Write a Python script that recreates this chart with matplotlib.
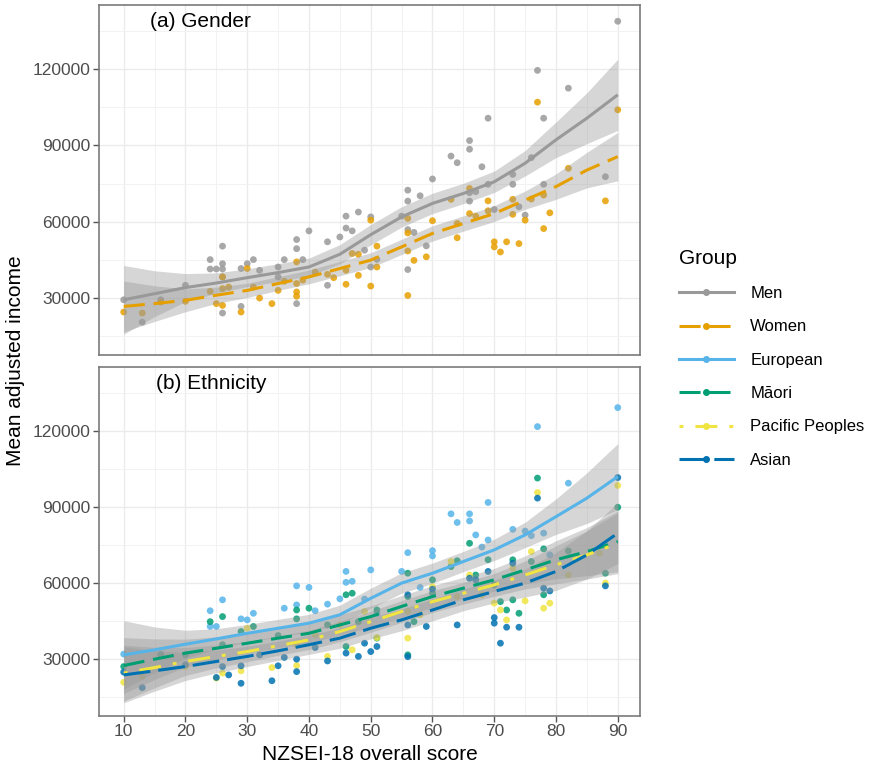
import numpy as np
import matplotlib
matplotlib.use("Agg")
import matplotlib.pyplot as plt
from matplotlib.lines import Line2D
from matplotlib.ticker import MultipleLocator

plt.rcParams['font.family'] = ['Liberation Sans', 'DejaVu Sans']

# ---------------- data ----------------
men_x = [10, 13, 16, 20, 24, 24, 25, 26, 26, 26, 26, 26, 29, 29, 30, 31, 32, 35, 35, 36,
         38, 38, 38, 39, 40, 43, 43, 45, 46, 46, 47, 48, 49, 50, 50, 51, 55, 56, 56, 56,
         56, 57, 58, 59, 60, 63, 64, 66, 66, 66, 66, 67, 68, 69, 69, 70, 73, 73, 74, 75,
         76, 77, 78, 78, 82, 88, 90]
men_y = [29300, 20500, 29300, 35000, 45100, 41400, 41400, 50400, 43500, 41400, 38300, 24100,
         41600, 26700, 43500, 45100, 40900, 42200, 38300, 45100, 53000, 49400, 27800, 45100,
         56400, 52100, 35000, 54000, 62200, 57500, 56400, 63800, 48800, 61900, 42200, 45200,
         62200, 72400, 68100, 56900, 41200, 55800, 70200, 50500, 76800, 85800, 83200, 91900,
         88500, 71400, 68100, 71800, 81600, 100700, 74700, 64800, 78600, 74700, 65900, 62600,
         85200, 119500, 100700, 74700, 112500, 77700, 138800]

women_x = [10, 13, 16, 20, 24, 25, 26, 26, 26, 27, 29, 30, 31, 32, 34, 35, 36, 38, 38, 38,
           38, 39, 41, 43, 44, 46, 46, 47, 48, 48, 50, 50, 51, 51, 56, 56, 56, 56, 57, 59,
           60, 63, 64, 64, 66, 66, 67, 69, 69, 70, 70, 71, 72, 73, 73, 74, 75, 76, 77, 78,
           78, 79, 82, 88, 90]
women_y = [24500, 24100, 28400, 28700, 32600, 27800, 38300, 33700, 27100, 34300, 24500, 41600,
           34300, 30000, 27800, 33000, 36600, 44200, 35700, 32400, 30700, 37000, 40200, 39300,
           38000, 40900, 35400, 47500, 47200, 38900, 60600, 34700, 50400, 42200, 61300, 55600,
           48500, 31000, 44800, 46200, 60400, 68800, 59300, 53700, 73100, 63200, 62200, 68200,
           64300, 52100, 50100, 48100, 52100, 68800, 62900, 51400, 60600, 68900, 107000, 70500,
           57300, 63500, 81000, 68200, 104000]

euro_x = [10, 16, 24, 26, 25, 24, 29, 30, 31, 36, 38, 38, 40, 41, 43, 45, 46, 46, 47, 49,
          50, 51, 55, 56, 58, 60, 60, 63, 64, 66, 66, 67, 68, 69, 69, 73, 75, 76, 77, 78,
          79, 82, 90]
euro_y = [32000, 32000, 49100, 53400, 42900, 42900, 45900, 45500, 48100, 50100, 58900, 51400,
          58300, 49100, 51700, 53800, 64600, 60300, 60700, 53700, 65200, 48100, 64600, 72000,
          58300, 72800, 70700, 87300, 83900, 87300, 84500, 79000, 74200, 91800, 77000, 81200,
          80500, 78700, 121700, 79700, 71100, 99400, 129200]

maori_x = [10, 16, 20, 24, 26, 26, 29, 31, 35, 38, 38, 40, 43, 46, 47, 46, 48, 51, 51, 56,
           56, 56, 57, 60, 60, 63, 64, 66, 67, 69, 70, 71, 72, 73, 73, 74, 76, 77, 78, 78,
           82, 88, 90]
maori_y = [27100, 31700, 31700, 44800, 46800, 35700, 40900, 42900, 39300, 49400, 45900, 50100,
           43500, 55400, 56000, 35000, 44800, 49400, 38300, 63900, 31700, 54700, 44800, 61300,
           56000, 66500, 68800, 75700, 63200, 69200, 59300, 52700, 49400, 69200, 53400, 48100,
           68500, 101400, 73500, 55400, 72700, 63900, 89900]

pac_x = [10, 13, 20, 25, 26, 29, 30, 34, 38, 38, 41, 43, 45, 47, 49, 51, 56, 56, 58, 60,
         63, 64, 66, 68, 70, 71, 72, 73, 75, 76, 77, 78, 79, 82, 87, 88, 90]
pac_y = [20900, 23200, 27100, 22500, 24500, 25400, 42200, 26700, 27500, 35700, 39600, 31100,
         43500, 33700, 48800, 38500, 38300, 48800, 47500, 58600, 68500, 54700, 63200, 55400,
         52100, 49400, 45500, 65900, 53000, 72400, 95700, 50100, 52100, 63200, 71800, 60000,
         98500]

asian_x = [10, 13, 20, 25, 26, 27, 29, 29, 32, 34, 35, 36, 38, 38, 41, 43, 46, 48, 49, 50,
           51, 56, 56, 56, 59, 60, 64, 66, 67, 69, 70, 70, 71, 72, 73, 74, 77, 78, 79, 88, 90]
asian_y = [24900, 18800, 27800, 22800, 27100, 23800, 20500, 27400, 31700, 21500, 27400, 30700,
           25100, 30000, 34600, 29300, 32400, 31100, 36300, 33000, 35000, 43500, 31000, 55400,
           42900, 57600, 43500, 61900, 61300, 64600, 46400, 44200, 36300, 42600, 67800, 42600,
           93500, 58000, 56900, 58900, 101600]

# smooth fits and half-widths of confidence bands
fit_x = [10, 15, 20, 25, 30, 35, 40, 45, 50, 55, 60, 65, 70, 75, 80, 85, 90]
men_fit = [29300, 31700, 34100, 35900, 38000, 40000, 42200, 47200, 54900, 61900, 67200, 71100,
           75700, 83000, 92200, 100700, 109900]
men_hw = [13500, 9000, 5500, 4000, 3500, 3500, 3500, 3800, 4000, 4000, 4000, 4000, 4200, 5000,
          7000, 10000, 14000]
women_fit = [26700, 27800, 29100, 31100, 33000, 35700, 38300, 41600, 44900, 50100, 55400, 59300,
             63200, 68500, 73800, 80300, 85600]
women_hw = [10000, 7000, 4500, 3200, 2800, 2700, 2700, 2800, 2900, 3000, 3000, 3000, 3100, 3600,
            5000, 7000, 9500]
euro_fit = [31700, 33700, 35900, 38000, 40200, 42200, 44200, 47500, 54000, 60000, 63900, 68500,
            73100, 79000, 86200, 93500, 102000]
euro_hw = [13500, 9000, 5500, 4000, 3500, 3500, 3500, 3800, 4000, 4000, 4000, 4000, 4200, 5000,
           7000, 10000, 13000]
maori_fit = [27500, 30000, 32400, 34300, 36300, 38300, 40200, 43500, 46800, 50800, 54700, 58000,
             61300, 65200, 69200, 72400, 76400]
pac_fit = [24500, 26700, 29100, 31100, 33000, 35300, 37600, 40900, 44800, 48800, 52700, 56000,
           59300, 63200, 67200, 71100, 75700]
asian_fit = [23800, 25400, 27100, 29100, 31100, 33300, 35700, 38300, 42200, 45500, 49400, 53400,
             56700, 60000, 64600, 71100, 79700]
other_hw = [11000, 8000, 5500, 4500, 4000, 3800, 3800, 4000, 4200, 4300, 4300, 4300, 4500, 5500,
            7500, 9500, 12000]

x_ticks = [10, 20, 30, 40, 50, 60, 70, 80, 90]
y_ticks = [30000, 60000, 90000, 120000]

# ---------------- styles ----------------
C_MEN, C_WOMEN = '#999999', '#E69F00'
C_EURO, C_MAORI, C_PAC, C_ASIAN = '#56B4E9', '#009E73', '#F0E442', '#0072B2'
LW = 2.2
DASHED = (0, (6.9, 2.9))
DOTDASH = (0, (1.3, 3.9, 7.2, 3.9))
LONGDASH = (0, (8.8, 2.6))

W, H = 869, 766
fig = plt.figure(figsize=(W / 100, H / 100), dpi=100)
axA = fig.add_axes([99 / W, 1 - 355 / H, 541 / W, 350 / H])
axB = fig.add_axes([99 / W, 1 - 716 / H, 541 / W, 349 / H])

def style(ax, show_x):
    ax.set_xlim(6, 93.6)
    ax.set_ylim(7600, 145200)
    ax.set_xticks(x_ticks)
    ax.set_yticks(y_ticks)
    ax.xaxis.set_minor_locator(MultipleLocator(5))
    ax.set_yticks([15000, 45000, 75000, 105000, 135000], minor=True)
    ax.grid(True, which='major', color='#EBEBEB', lw=1.0, zorder=0)
    ax.grid(True, which='minor', color='#F2F2F2', lw=0.7, zorder=0)
    ax.set_axisbelow(True)
    for s in ax.spines.values():
        s.set_color('#7A7A7A')
        s.set_linewidth(1.2)
    ax.tick_params(which='minor', length=0)
    ax.tick_params(which='major', length=4, color='#555555', labelcolor='#4D4D4D',
                   labelsize=12.5, width=1.0, pad=2)
    ax.set_yticklabels([str(v) for v in y_ticks])
    if show_x:
        ax.set_xticklabels([str(v) for v in x_ticks])
    else:
        ax.tick_params(axis='x', length=0, labelbottom=False)

style(axA, False)
style(axB, True)

def pts(ax, x, y, c):
    ax.scatter(x, y, s=24, color=c, alpha=0.85, edgecolors='none', zorder=2)

def smooth(ax, fit, hw, c, ls):
    f = np.array(fit, float)
    h = np.array(hw, float)
    ax.fill_between(fit_x, f - h, f + h, color='#999999', alpha=0.4, lw=0, zorder=3)
    ax.plot(fit_x, f, color=c, lw=LW, linestyle=ls, zorder=4, solid_capstyle='butt',
            dash_capstyle='butt')

# panel a
pts(axA, men_x, men_y, C_MEN)
pts(axA, women_x, women_y, C_WOMEN)
smooth(axA, men_fit, men_hw, C_MEN, '-')
smooth(axA, women_fit, women_hw, C_WOMEN, DASHED)
axA.text(14.3, 138600, '(a) Gender', fontsize=15, ha='left', va='center', color='black')

# panel b
pts(axB, euro_x, euro_y, C_EURO)
pts(axB, maori_x, maori_y, C_MAORI)
pts(axB, pac_x, pac_y, C_PAC)
pts(axB, asian_x, asian_y, C_ASIAN)
smooth(axB, euro_fit, euro_hw, C_EURO, '-')
smooth(axB, maori_fit, other_hw, C_MAORI, DASHED)
smooth(axB, pac_fit, other_hw, C_PAC, DOTDASH)
smooth(axB, asian_fit, other_hw, C_ASIAN, LONGDASH)
axB.text(15.2, 138600, '(b) Ethnicity', fontsize=15, ha='left', va='center', color='black')

fig.text(0.018, 1 - 360.5 / H, 'Mean adjusted income', rotation=90, ha='center', va='center',
         fontsize=15)
fig.text(370 / W, 1 - 754 / H, 'NZSEI-18 overall score', ha='center', va='center', fontsize=15)

# legend
handles = [
    Line2D([], [], color=C_MEN, lw=LW, ls='-', marker='o', ms=4),
    Line2D([], [], color=C_WOMEN, lw=LW, ls=DASHED, marker='o', ms=4),
    Line2D([], [], color=C_EURO, lw=LW, ls='-', marker='o', ms=4),
    Line2D([], [], color=C_MAORI, lw=LW, ls=DASHED, marker='o', ms=4),
    Line2D([], [], color=C_PAC, lw=LW, ls=DOTDASH, marker='o', ms=4),
    Line2D([], [], color=C_ASIAN, lw=LW, ls=LONGDASH, marker='o', ms=4),
]
labels = ['Men', 'Women', 'European', 'Māori', 'Pacific Peoples', 'Asian']
leg = fig.legend(handles, labels, loc='upper left', bbox_to_anchor=(672 / W, 1 - 242 / H),
                 frameon=False, title='Group', title_fontsize=15, fontsize=12,
                 numpoints=1, handlelength=3.3, handletextpad=1.0, labelspacing=1.1,
                 alignment='left', borderaxespad=0)

fig.savefig('out.png', dpi=100)
